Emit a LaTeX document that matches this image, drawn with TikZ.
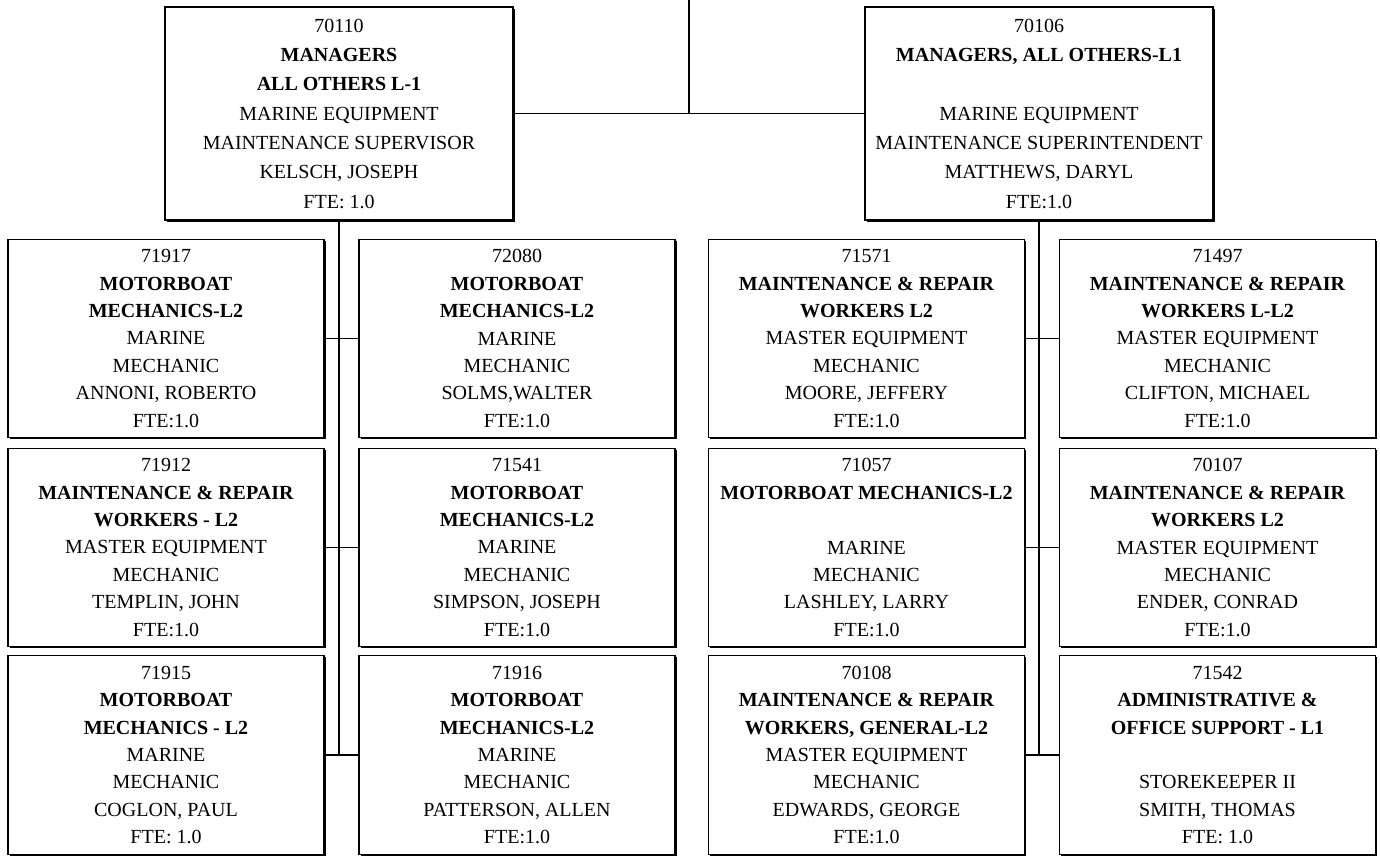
\documentclass[tikz,border=0pt]{standalone}
\usepackage{fontspec}
\setmainfont{Liberation Serif}
\usetikzlibrary{shadows}
\begin{document}
\begin{tikzpicture}[x=0.75pt,y=-0.75pt,
  post/.style={draw=black, line width=0.8pt, fill=white, align=center, inner sep=1pt,
    minimum width=237pt, minimum height=149pt,
    font=\fontsize{15}{20.6}\selectfont,
    drop shadow={shadow xshift=1.2pt, shadow yshift=-1.2pt, fill=black, opacity=1}},
  mgr/.style={post, minimum width=261pt, minimum height=159.75pt,
    font=\fontsize{15}{22}\selectfont},
  trunk/.style={line width=0.8pt},
  branch/.style={line width=1.4pt}]
\useasboundingbox (0,0) rectangle (1380,856);

% managers
\node[mgr] (m1) at (339,113.5) {70110\\ \textbf{MANAGERS}\\ \textbf{ALL OTHERS L-1}\\ MARINE EQUIPMENT\\ MAINTENANCE SUPERVISOR\\ KELSCH, JOSEPH\\ FTE: 1.0};
\node[mgr] (m2) at (1039,113.5) {70106\\ \textbf{MANAGERS, ALL OTHERS-L1}\\ ~\\ MARINE EQUIPMENT\\ MAINTENANCE SUPERINTENDENT\\ MATTHEWS, DARYL\\ FTE:1.0};

% left group
\node[post] (a1) at (166,338.5) {71917\\ \textbf{MOTORBOAT}\\ \textbf{MECHANICS-L2}\\ MARINE\\ MECHANIC\\ ANNONI, ROBERTO\\ FTE:1.0};
\node[post] (b1) at (517,338.5) {72080\\ \textbf{MOTORBOAT}\\ \textbf{MECHANICS-L2}\\ MARINE\\ MECHANIC\\ SOLMS,WALTER\\ FTE:1.0};
\node[post] (a2) at (166,547.5) {71912\\ \textbf{MAINTENANCE \& REPAIR}\\ \textbf{WORKERS - L2}\\ MASTER EQUIPMENT\\ MECHANIC\\ TEMPLIN, JOHN\\ FTE:1.0};
\node[post] (b2) at (517,547.5) {71541\\ \textbf{MOTORBOAT}\\ \textbf{MECHANICS-L2}\\ MARINE\\ MECHANIC\\ SIMPSON, JOSEPH\\ FTE:1.0};
\node[post] (a3) at (166,755) {71915\\ \textbf{MOTORBOAT}\\ \textbf{MECHANICS - L2}\\ MARINE\\ MECHANIC\\ COGLON, PAUL\\ FTE: 1.0};
\node[post] (b3) at (517,755) {71916\\ \textbf{MOTORBOAT}\\ \textbf{MECHANICS-L2}\\ MARINE\\ MECHANIC\\ PATTERSON, ALLEN\\ FTE:1.0};

% right group
\node[post] (c1) at (866.5,338.5) {71571\\ \textbf{MAINTENANCE \& REPAIR}\\ \textbf{WORKERS L2}\\ MASTER EQUIPMENT\\ MECHANIC\\ MOORE, JEFFERY\\ FTE:1.0};
\node[post] (d1) at (1217.5,338.5) {71497\\ \textbf{MAINTENANCE \& REPAIR}\\ \textbf{WORKERS L-L2}\\ MASTER EQUIPMENT\\ MECHANIC\\ CLIFTON, MICHAEL\\ FTE:1.0};
\node[post] (c2) at (866.5,547.5) {71057\\ \textbf{MOTORBOAT MECHANICS-L2}\\ ~\\ MARINE\\ MECHANIC\\ LASHLEY, LARRY\\ FTE:1.0};
\node[post] (d2) at (1217.5,547.5) {70107\\ \textbf{MAINTENANCE \& REPAIR}\\ \textbf{WORKERS L2}\\ MASTER EQUIPMENT\\ MECHANIC\\ ENDER, CONRAD\\ FTE:1.0};
\node[post] (c3) at (866.5,755) {70108\\ \textbf{MAINTENANCE \& REPAIR}\\ \textbf{WORKERS, GENERAL-L2}\\ MASTER EQUIPMENT\\ MECHANIC\\ EDWARDS, GEORGE\\ FTE:1.0};
\node[post] (d3) at (1217.5,755) {71542\\ \textbf{ADMINISTRATIVE \&}\\ \textbf{OFFICE SUPPORT - L1}\\ ~\\ STOREKEEPER II\\ SMITH, THOMAS\\ FTE: 1.0};

% connectors
\coordinate (top) at (689,0);
\draw[trunk] (top) -- (top |- m1.east);
\draw[branch] (m1.east) -- (m2.west);

\draw[trunk] (m1.south) -- (m1.south |- a3.east);
\draw[branch] (a1.east) -- (b1.west);
\draw[branch] (a2.east) -- (b2.west);
\draw[branch] (a3.east) -- (b3.west);

\draw[trunk] (m2.south) -- (m2.south |- c3.east);
\draw[branch] (c1.east) -- (d1.west);
\draw[branch] (c2.east) -- (d2.west);
\draw[branch] (c3.east) -- (d3.west);
\end{tikzpicture}
\end{document}
